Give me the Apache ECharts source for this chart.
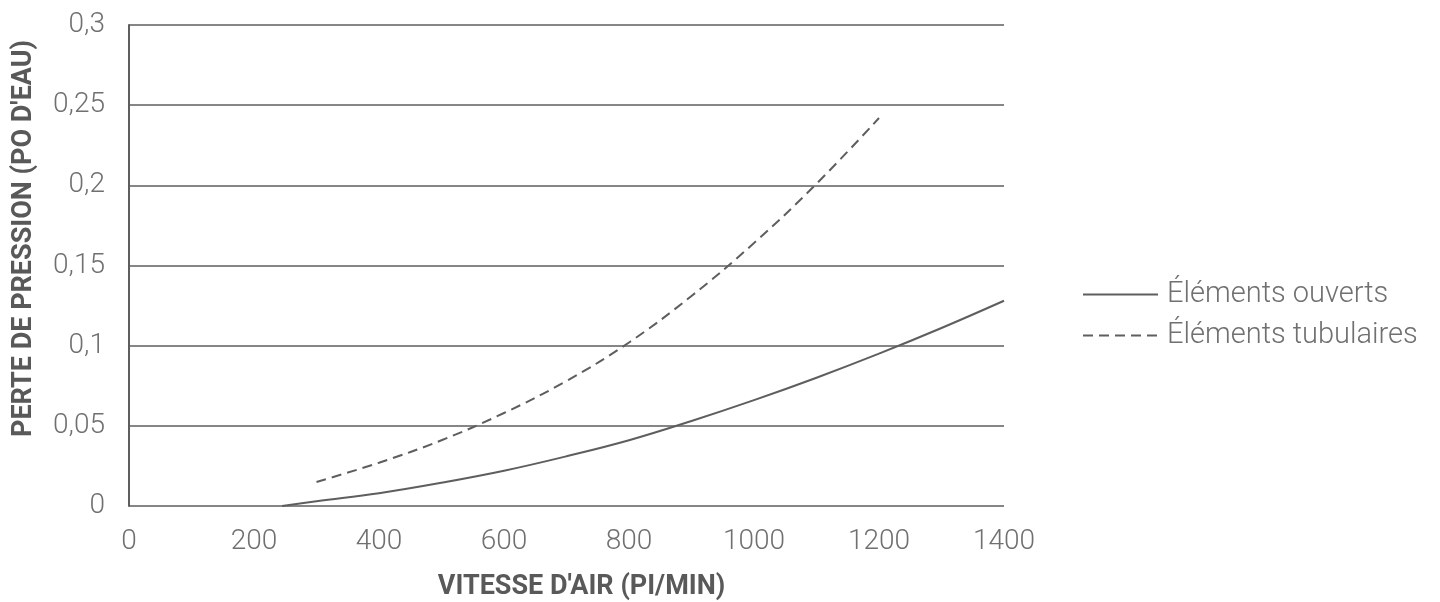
<!DOCTYPE html>
<html>
<head>
<meta charset="utf-8">
<script src="https://cdn.jsdelivr.net/npm/echarts@6/dist/echarts.min.js"></script>
<style>
html,body{margin:0;padding:0;background:#fff;}
#chart{width:1440px;height:602px;}
</style>
</head>
<body>
<div id="chart"></div>
<script>
// Data
const seriesNames = ['Éléments ouverts', 'Éléments tubulaires'];
const openX = [245, 300, 400, 500, 600, 700, 800, 900, 1000, 1100, 1200, 1300, 1400];
const openY = [0, 0.003, 0.008, 0.0145, 0.022, 0.031, 0.041, 0.053, 0.066, 0.080, 0.095, 0.111, 0.128];
const tubeX = [300, 400, 500, 600, 700, 800, 900, 1000, 1100, 1200];
const tubeY = [0.015, 0.027, 0.041, 0.058, 0.078, 0.102, 0.131, 0.164, 0.201, 0.242];
const xTitle = "VITESSE D'AIR (PI/MIN)";
const yTitle = "PERTE DE PRESSION (PO D'EAU)";

const pair = (xs, ys) => xs.map((x, i) => [x, ys[i]]);
const fmtY = v => String(+v.toFixed(2)).replace('.', ',');
const lineCol = '#5e5e5e';
const textCol = '#707070';
const titleCol = '#595959';
const font = 'Roboto';

const chart = echarts.init(document.getElementById('chart'), null, {renderer: 'canvas'});
chart.setOption({
  animation: false,
  backgroundColor: '#fff',
  grid: {left: 129, right: 436, top: 25, bottom: 96, containLabel: false, outerBoundsMode: 'none'},
  legend: {
    orient: 'vertical',
    left: 1077,
    top: 275,
    itemWidth: 75,
    itemHeight: 14,
    itemGap: 12,
    itemStyle: {opacity: 0},
    textStyle: {fontFamily: font, fontWeight: 300, fontSize: 29, color: textCol, padding: [0, 0, 0, 4]},
    data: seriesNames
  },
  xAxis: {
    type: 'value', min: 0, max: 1400, interval: 200,
    name: xTitle, nameLocation: 'middle', nameGap: 68,
    nameTextStyle: {fontFamily: font, fontWeight: 'bold', fontSize: 27, color: titleCol, padding: [0, 0, 0, 30]},
    axisLine: {show: false}, axisTick: {show: false},
    axisLabel: {fontFamily: font, fontWeight: 300, fontSize: 28, color: textCol, margin: 22, formatter: v => String(v)},
    splitLine: {show: false}
  },
  yAxis: {
    type: 'value', min: 0, max: 0.3, interval: 0.05,
    name: yTitle, nameLocation: 'middle', nameGap: 91, nameRotate: 90,
    nameTextStyle: {fontFamily: font, fontWeight: 'bold', fontSize: 27, color: titleCol, padding: [0, 0, 0, 54]},
    axisLine: {show: true, lineStyle: {color: lineCol, width: 2}},
    axisTick: {show: false},
    axisLabel: {fontFamily: font, fontWeight: 300, fontSize: 28, color: textCol, margin: 24, formatter: fmtY},
    splitLine: {show: true, lineStyle: {color: lineCol, width: 1.6}}
  },
  series: [
    {
      name: seriesNames[0], type: 'line', smooth: 0.4, symbol: 'none',
      data: pair(openX, openY),
      lineStyle: {color: lineCol, width: 2, type: 'solid'},
      itemStyle: {color: lineCol}
    },
    {
      name: seriesNames[1], type: 'line', smooth: 0.4, symbol: 'none',
      data: pair(tubeX, tubeY),
      lineStyle: {color: lineCol, width: 2, type: [10, 6]},
      itemStyle: {color: lineCol}
    }
  ]
});
</script>
</body>
</html>
